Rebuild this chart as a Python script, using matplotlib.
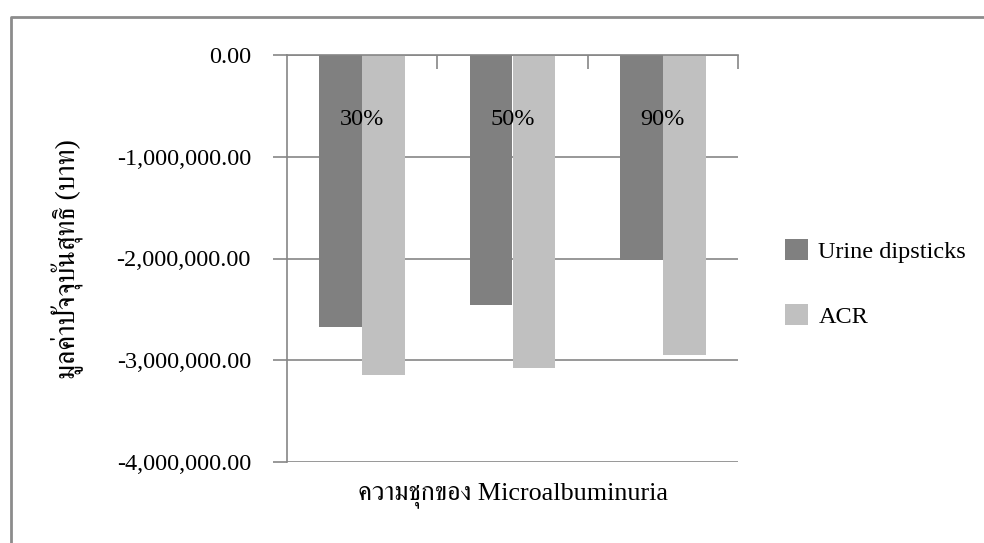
import matplotlib
matplotlib.use("Agg")
import matplotlib.pyplot as plt
from matplotlib.lines import Line2D
from matplotlib.ticker import FuncFormatter

plt.rcParams['font.family'] = ['Liberation Serif', 'FreeSerif']

# data (baht)
groups = ['30%', '50%', '90%']
dipstick = [-2670000, -2455000, -2018000]
acr = [-3142000, -3080000, -2948000]
series_names = ['Urine dipsticks', 'ACR']
y_ticks = [0, -1000000, -2000000, -3000000, -4000000]

grey = '#868686'
fs = 17.5

fig = plt.figure(figsize=(9.84, 5.43), dpi=100)
ax = fig.add_axes([287 / 984, 1 - 462 / 543, 451 / 984, 407 / 543])

w = 0.286
x = list(range(len(groups)))
ax.bar([i - w / 2 for i in x], dipstick, w, color='#808080', label=series_names[0], zorder=3)
ax.bar([i + w / 2 for i in x], acr, w, color='#c0c0c0', label=series_names[1], zorder=3)

ax.set_xlim(-0.5, len(groups) - 0.5)
ax.set_ylim(min(y_ticks), max(y_ticks))
ax.set_yticks(y_ticks)
ax.yaxis.set_major_formatter(FuncFormatter(lambda v, p: '{:,.2f}'.format(v)))
ax.yaxis.grid(True, color=grey, lw=1.2, zorder=0)
ax.tick_params(axis='y', length=10, width=1.2, color=grey, pad=16, labelsize=fs)

# category axis sits on the zero line at the top
ax.xaxis.set_ticks_position('top')
ax.set_xticks([i + 0.5 for i in x])
ax.tick_params(axis='x', direction='in', length=10, width=1.2, color=grey, labeltop=False)

for s in ['right', 'bottom']:
    ax.spines[s].set_visible(False)
for s in ['left', 'top']:
    ax.spines[s].set_color(grey)
    ax.spines[s].set_linewidth(1.2)
    ax.spines[s].set_zorder(4)

for i, g in enumerate(groups):
    ax.text(i, -630000, g, ha='center', va='center', fontsize=fs, zorder=5)

fig.text(67 / 984, 1 - 259 / 543, 'มูลค่าปัจจุบันสุทธิ (บาท)', rotation=90,
         ha='center', va='center', fontsize=20)
fig.text(513 / 984, 1 - 495 / 543, 'ความชุกของ Microalbuminuria',
         ha='center', va='center', fontsize=18.8)

fig.legend(loc='center left', bbox_to_anchor=(773 / 984, 1 - 283.5 / 543),
           frameon=False, fontsize=fs, borderpad=0, handlelength=0.95,
           handleheight=0.95, handletextpad=0.42, labelspacing=1.7)

# outer chart frame (left and top edges only)
fig.add_artist(Line2D([11 / 984, 11 / 984, 1], [0, 1 - 17 / 543, 1 - 17 / 543],
                      transform=fig.transFigure, color='#8c8c8c', lw=2))

fig.savefig('out.png', dpi=100)
